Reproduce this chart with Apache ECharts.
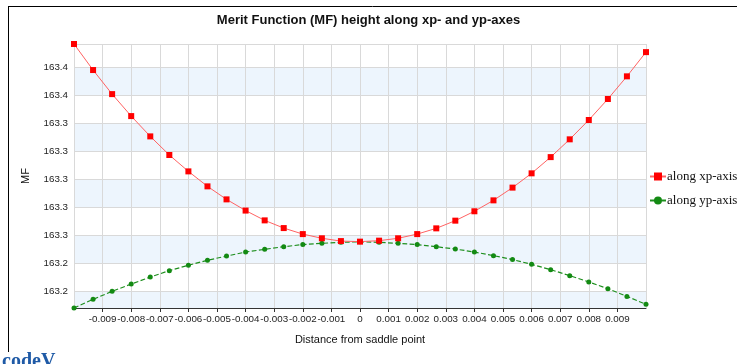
<!DOCTYPE html>
<html>
<head>
<meta charset="utf-8">
<script src="https://cdn.jsdelivr.net/npm/echarts@6/dist/echarts.min.js"></script>
<style>
html,body{margin:0;padding:0;background:#fff;}
#chart{width:737px;height:364px;}
</style>
</head>
<body>
<div id="chart"></div>
<script>
const chartTitle = 'Merit Function (MF) height along xp- and yp-axes';
const xAxisName = 'Distance from saddle point';
const yAxisName = 'MF';
const seriesNames = ['along xp-axis', 'along yp-axis'];

const xValues = [-0.01, -0.009333, -0.008667, -0.008, -0.007333, -0.006667, -0.006, -0.005333, -0.004667, -0.004,
  -0.003333, -0.002667, -0.002, -0.001333, -0.000667, 0, 0.000667, 0.001333, 0.002, 0.002667,
  0.003333, 0.004, 0.004667, 0.005333, 0.006, 0.006667, 0.007333, 0.008, 0.008667, 0.009333, 0.01];

const xpValues = [163.3969, 163.3783, 163.3611, 163.3454, 163.3309, 163.3176, 163.3059, 163.2952, 163.2859, 163.2779,
  163.2709, 163.2654, 163.2611, 163.2581, 163.2561, 163.2557, 163.2564, 163.2581, 163.2611, 163.2652,
  163.2707, 163.2774, 163.2852, 163.2943, 163.3045, 163.3161, 163.3288, 163.3426, 163.3576, 163.3738, 163.3911];

const ypValues = [163.2083, 163.2145, 163.2202, 163.2254, 163.2304, 163.2350, 163.2388, 163.2424, 163.2454, 163.2483,
  163.2502, 163.2521, 163.2536, 163.2545, 163.2552, 163.2556, 163.2552, 163.2545, 163.2536, 163.2521,
  163.2504, 163.2483, 163.2457, 163.2429, 163.2395, 163.2357, 163.2314, 163.2269, 163.2221, 163.2166, 163.2109];

const chart = echarts.init(document.getElementById('chart'), null, {renderer: 'canvas'});
const pair = (ys) => xValues.map((x, i) => [x, ys[i]]);

chart.setOption({
  animation: false,
  backgroundColor: '#ffffff',
  title: {
    text: chartTitle,
    left: 'center',
    top: 9,
    textStyle: {fontFamily: 'Liberation Sans', fontSize: 13, fontWeight: 'bold', color: '#111'}
  },
  legend: {
    orient: 'vertical',
    left: 649,
    top: 170,
    padding: 0,
    itemWidth: 16,
    itemHeight: 10,
    itemGap: 11,
    textStyle: {fontFamily: 'Liberation Serif', fontSize: 13, color: '#111', padding: [0,0,0,-4]},
    data: seriesNames
  },
  grid: {left: 74, right: 91, top: 44, bottom: 56, containLabel: false},
  xAxis: {
    type: 'value',
    min: -0.01,
    max: 0.01,
    interval: 0.001,
    name: xAxisName,
    nameLocation: 'middle',
    nameGap: 26,
    nameTextStyle: {fontFamily: 'Liberation Sans', fontSize: 11, color: '#111'},
    axisLine: {show: true, lineStyle: {color: '#333', width: 1}},
    axisTick: {show: true, length: 4, lineStyle: {color: '#333'}},
    axisLabel: {
      showMinLabel: false, showMaxLabel: false, margin: 6,
      fontFamily: 'Liberation Sans', fontSize: 9.8, color: '#222',
      hideOverlap: false,
      formatter: v => String(parseFloat(v.toFixed(3)))
    },
    splitLine: {show: true, lineStyle: {color: '#d9d9d9', width: 1}}
  },
  yAxis: {
    type: 'value',
    min: 'dataMin',
    max: 'dataMax',
    splitNumber: 9,
    minInterval: 0.02,
    maxInterval: 0.02,
    name: yAxisName,
    nameLocation: 'middle',
    nameGap: 43,
    nameTextStyle: {fontFamily: 'Liberation Sans', fontSize: 11, color: '#111'},
    axisLine: {show: false},
    axisTick: {show: false},
    axisLabel: {
      showMinLabel: false, showMaxLabel: false, margin: 6,
      fontFamily: 'Liberation Sans', fontSize: 9.8, color: '#222',
      formatter: v => v.toFixed(1)
    },
    splitLine: {show: true, lineStyle: {color: '#d9d9d9', width: 1}},
    splitArea: {show: true, areaStyle: {color: ['#edf5fd', '#ffffff']}}
  },
  series: [
    {
      name: seriesNames[0],
      type: 'line',
      data: pair(xpValues),
      symbol: 'rect',
      symbolSize: 6,
      itemStyle: {color: '#ff0000'},
      lineStyle: {color: '#ff6262', width: 1},
      z: 3
    },
    {
      name: seriesNames[1],
      type: 'line',
      data: pair(ypValues),
      symbol: 'circle',
      symbolSize: 5,
      itemStyle: {color: '#138a13'},
      lineStyle: {color: '#1e8f1e', width: 1.2, type: 'dashed'},
      z: 2
    }
  ],
  graphic: [
    {type: 'line', shape: {x1: 8, y1: 6.5, x2: 737, y2: 6.5}, style: {stroke: '#000', lineWidth: 1}},
    {type: 'line', shape: {x1: 8.5, y1: 6, x2: 8.5, y2: 352}, style: {stroke: '#000', lineWidth: 1}},
    {type: 'text', left: 2, top: 352, style: {text: 'codeV', fill: '#1f5aa6', font: 'bold 20px "Liberation Serif"'}}
  ]
});
</script>
</body>
</html>
